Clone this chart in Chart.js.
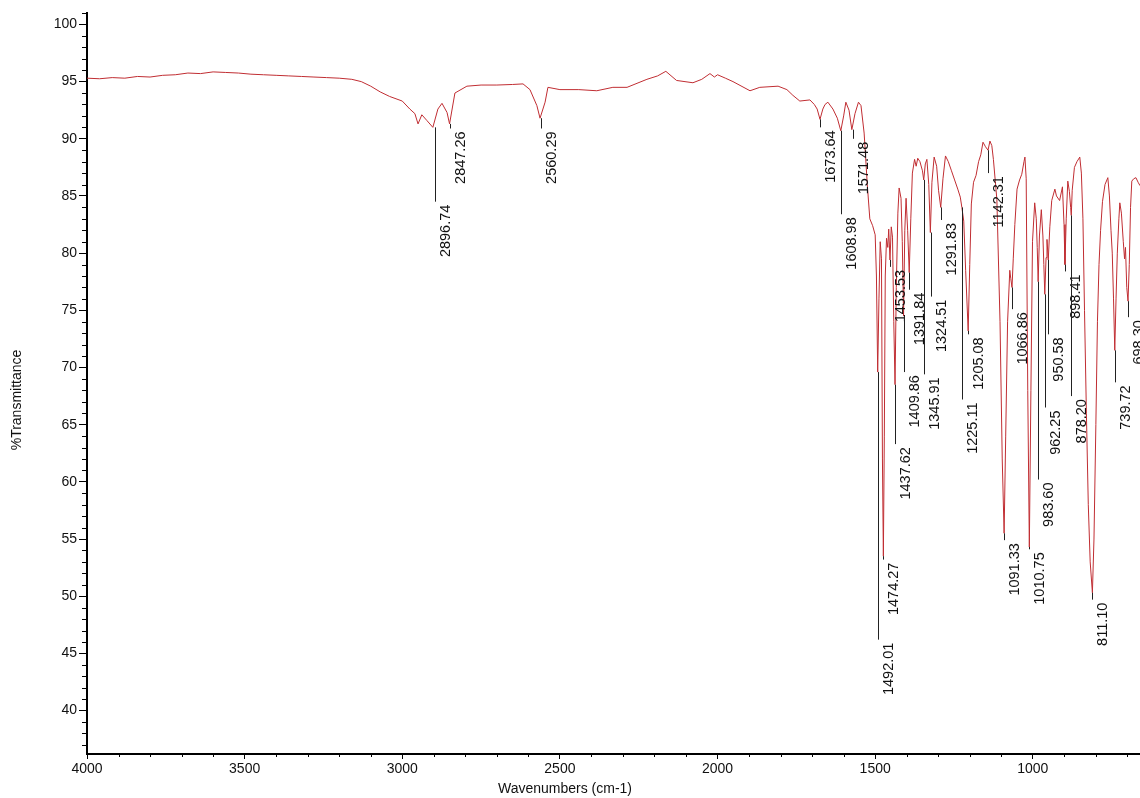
<!DOCTYPE html>
<html>
<head>
<meta charset="utf-8">
<script src="https://cdn.jsdelivr.net/npm/chart.js@4.4.1/dist/chart.umd.min.js"></script>
<style>
  html, body { margin: 0; padding: 0; background: #fff; }
  canvas { display: block; }
</style>
</head>
<body>
<canvas id="spectrum" width="1140" height="798"></canvas>
<script>
// spectrum (cm-1, %T)
const wavenumbers = [
  4000, 3960, 3920, 3880, 3840, 3800, 3760, 3720, 3680, 3640, 3600, 3560, 3520, 3480, 3440, 3400,
  3360, 3320, 3280, 3240, 3200, 3160, 3130, 3100, 3070, 3040, 3000, 2976, 2960, 2950, 2938, 2922,
  2903, 2887, 2874, 2858, 2850, 2833, 2795, 2750, 2700, 2650, 2617, 2595, 2573, 2563, 2547, 2538,
  2500, 2440, 2383, 2332, 2287, 2224, 2190, 2164, 2130, 2078, 2050, 2024, 2010, 2000, 1975, 1951,
  1897, 1866, 1808, 1780, 1761, 1739, 1707, 1693, 1684, 1675, 1666, 1659, 1650, 1634, 1620, 1609,
  1600, 1593, 1583, 1574, 1564, 1553, 1545, 1535, 1525, 1517, 1508, 1500, 1496, 1492, 1488, 1484,
  1480, 1477, 1474, 1471, 1468, 1464, 1460, 1457, 1453, 1449, 1445, 1441, 1437, 1433, 1428, 1424,
  1418, 1414, 1410, 1406, 1402, 1397, 1392, 1387, 1382, 1375, 1370, 1365, 1358, 1350, 1346, 1341,
  1336, 1330, 1325, 1320, 1313, 1305, 1299, 1292, 1285, 1277, 1268, 1258, 1248, 1238, 1230, 1225,
  1219, 1213, 1205, 1200, 1195, 1188, 1180, 1172, 1165, 1158, 1150, 1142, 1136, 1130, 1125, 1119,
  1114, 1104, 1097, 1091, 1086, 1080, 1073, 1070, 1066, 1062, 1057, 1050, 1042, 1035, 1028, 1025,
  1021, 1016, 1011, 1006, 1001, 994, 989, 986, 983, 979, 973, 968, 965, 962, 958, 955,
  951, 946, 940, 930, 925, 915, 906, 901, 898, 894, 889, 884, 880, 878, 875, 868,
  860, 851, 846, 841, 836, 830, 824, 818, 811, 806, 800, 795, 790, 785, 779, 771,
  762, 757, 752, 748, 744, 740, 736, 732, 727, 724, 719, 713, 709, 706, 702, 698,
  694, 690, 686, 680, 673, 666, 660
];
const transmittance = [
  95.3, 95.25, 95.35, 95.3, 95.45, 95.4, 95.55, 95.6, 95.75, 95.7, 95.85, 95.8, 95.75, 95.65, 95.6, 95.55,
  95.5, 95.45, 95.4, 95.35, 95.3, 95.2, 95.0, 94.6, 94.1, 93.7, 93.3, 92.6, 92.2, 91.3, 92.1, 91.6,
  91.0, 92.6, 93.1, 92.3, 91.3, 94.0, 94.6, 94.7, 94.7, 94.75, 94.8, 94.3, 92.9, 91.8, 93.2, 94.5,
  94.3, 94.3, 94.2, 94.5, 94.5, 95.2, 95.5, 95.9, 95.1, 94.9, 95.2, 95.7, 95.4, 95.6, 95.3, 95.0,
  94.2, 94.5, 94.6, 94.3, 93.8, 93.3, 93.4, 93.0, 92.6, 91.7, 92.6, 93.0, 93.2, 92.6, 91.8, 90.7,
  92.0, 93.2, 92.5, 90.8, 92.2, 93.2, 92.9, 90.5, 86.0, 83.0, 82.4, 81.6, 78.0, 69.6, 76.0, 81.0,
  79.5, 62.0, 53.5, 64.0, 78.0, 81.3, 80.5, 82.1, 79.4, 82.3, 81.4, 74.0, 68.5, 77.0, 83.5, 85.7,
  84.8, 81.0, 74.5, 82.0, 84.8, 82.0, 78.3, 83.0, 87.0, 88.2, 87.6, 88.3, 88.0, 87.2, 86.4, 87.8,
  88.2, 86.0, 81.8, 86.2, 88.4, 87.6, 85.5, 84.0, 86.5, 88.5, 88.0, 87.2, 86.4, 85.6, 84.9, 84.0,
  82.8, 78.5, 73.2, 79.0, 84.3, 86.2, 86.8, 88.0, 88.6, 89.7, 89.3, 89.0, 89.8, 89.4, 88.2, 86.3,
  84.7, 74.0, 62.0, 55.5, 64.0, 74.0, 78.5, 77.8, 77.0, 79.5, 82.5, 85.6, 86.4, 86.9, 88.0, 88.4,
  86.5, 68.0, 54.3, 68.0, 81.0, 84.4, 83.0, 80.5, 77.5, 81.5, 83.8, 81.5, 79.0, 76.4, 79.6, 81.2,
  79.4, 82.3, 84.6, 85.6, 85.0, 84.6, 85.8, 82.5, 79.0, 83.0, 86.3, 85.4, 84.0, 83.3, 85.5, 87.5,
  88.0, 88.4, 87.0, 83.0, 75.0, 66.0, 58.0, 53.0, 50.3, 55.0, 65.0, 74.0, 79.0, 82.0, 84.5, 86.0,
  86.6, 85.0, 82.0, 80.0, 76.0, 71.5, 76.0, 80.0, 83.0, 84.4, 83.5, 81.0, 79.5, 80.5, 77.0, 75.8,
  79.0, 84.0, 86.3, 86.5, 86.6, 86.2, 85.9
];

// labelled peaks: position, %T at the peak, %T where the leader line stops
const peakPositions = [
  2896.74, 2847.26, 2560.29, 1673.64, 1608.98, 1571.48, 1492.01, 1474.27, 1453.53, 1437.62,
  1409.86, 1391.84, 1345.91, 1324.51, 1291.83, 1225.11, 1205.08, 1142.31, 1091.33, 1066.86,
  1010.75, 983.60, 962.25, 950.58, 898.41, 878.20, 811.10, 739.72, 698.30
];
const peakMinima = [
  91.0, 91.3, 91.8, 91.7, 90.7, 90.8, 69.6, 53.5, 79.4, 68.5,
  74.5, 78.3, 86.4, 81.8, 84.0, 84.0, 73.2, 89.0, 55.5, 77.0,
  54.3, 77.5, 76.4, 79.4, 79.0, 83.3, 50.3, 71.5, 75.8
];
const peakLabelLevels = [
  84.5, 90.9, 90.9, 91.0, 83.4, 90.0, 46.2, 53.2, 78.8, 63.3,
  69.6, 76.8, 69.4, 76.2, 82.9, 67.2, 72.9, 87.0, 54.9, 75.1,
  54.1, 60.2, 66.5, 72.9, 78.4, 67.5, 49.7, 68.7, 74.4
];

const xTickValues = [4000, 3500, 3000, 2500, 2000, 1500, 1000];
const yTickValues = [40, 45, 50, 55, 60, 65, 70, 75, 80, 85, 90, 95, 100];
const xRange = [660, 4000];
const yRange = [36.2, 101];
const xTitle = "Wavenumbers (cm-1)";
const yTitle = "%Transmittance";

const FONT = '"Liberation Sans", Arial, Helvetica, sans-serif';

const minorTicks = {
  id: "minorTicks",
  afterDraw(chart) {
    const { ctx, chartArea, scales: { x, y } } = chart;
    ctx.save();
    ctx.strokeStyle = "#000";
    ctx.lineWidth = 1;
    ctx.beginPath();
    for (let v = Math.ceil(y.min); v <= y.max; v++) {
      if (v % 5 === 0) continue;
      const py = Math.round(y.getPixelForValue(v)) + 0.5;
      ctx.moveTo(chartArea.left - 5, py);
      ctx.lineTo(chartArea.left, py);
    }
    for (let v = Math.ceil(x.min / 100) * 100; v <= x.max; v += 100) {
      if (v % 500 === 0) continue;
      const px = Math.round(x.getPixelForValue(v)) + 0.5;
      ctx.moveTo(px, chartArea.bottom);
      ctx.lineTo(px, chartArea.bottom + 3);
    }
    ctx.stroke();

    // axis titles
    ctx.fillStyle = "#111";
    ctx.font = `14px ${FONT}`;
    ctx.textAlign = "center";
    ctx.textBaseline = "middle";
    ctx.fillText(xTitle, 565, 789);
    ctx.translate(17, 400);
    ctx.rotate(-Math.PI / 2);
    ctx.fillText(yTitle, 0, 0);
    ctx.restore();
  },
};

const peakLabels = {
  id: "peakLabels",
  afterDatasetsDraw(chart) {
    const { ctx, chartArea, scales: { x, y } } = chart;
    ctx.save();
    ctx.beginPath();
    ctx.rect(chartArea.left, chartArea.top, chartArea.right - chartArea.left, chartArea.bottom - chartArea.top);
    ctx.clip();
    ctx.strokeStyle = "#222";
    ctx.fillStyle = "#111";
    ctx.lineWidth = 1;
    ctx.font = `14.5px ${FONT}`;
    peakPositions.forEach((w, i) => {
      const px = Math.round(x.getPixelForValue(w)) + 0.5;
      const top = y.getPixelForValue(peakMinima[i]);
      const bottom = y.getPixelForValue(peakLabelLevels[i]);
      ctx.beginPath();
      ctx.moveTo(px, top);
      ctx.lineTo(px, bottom);
      ctx.stroke();
      ctx.save();
      ctx.translate(px + 3, bottom + 3);
      ctx.rotate(-Math.PI / 2);
      ctx.textAlign = "right";
      ctx.textBaseline = "top";
      ctx.fillText(w.toFixed(2), 0, 0);
      ctx.restore();
    });
    ctx.restore();
  },
};

new Chart(document.getElementById("spectrum"), {
  type: "line",
  data: {
    datasets: [{
      data: wavenumbers.map((w, i) => ({ x: w, y: transmittance[i] })),
      borderColor: "rgb(192,45,50)",
      borderWidth: 1,
      pointRadius: 0,
      tension: 0,
      fill: false,
    }],
  },
  options: {
    responsive: false,
    animation: false,
    layout: { padding: { top: 13, right: 0, bottom: 0, left: 0 } },
    plugins: { legend: { display: false }, tooltip: { enabled: false } },
    scales: {
      x: {
        type: "linear",
        reverse: true,
        min: xRange[0],
        max: xRange[1],
        afterFit(s) { s.height = 44; },
        afterBuildTicks(s) { s.ticks = xTickValues.map((v) => ({ value: v })); },
        border: { color: "#000", width: 2 },
        grid: { drawOnChartArea: false, tickLength: 5, color: "#000" },
        ticks: {
          autoSkip: false, maxRotation: 0, padding: 2, color: "#111",
          font: { family: FONT, size: 14 },
          callback: (v) => String(v),
        },
      },
      y: {
        min: yRange[0],
        max: yRange[1],
        afterFit(s) { s.width = 87; },
        afterBuildTicks(s) { s.ticks = yTickValues.map((v) => ({ value: v })); },
        border: { color: "#000", width: 2 },
        grid: { drawOnChartArea: false, tickLength: 8, color: "#000" },
        ticks: {
          padding: 2, color: "#111", font: { family: FONT, size: 14 },
          callback: (v) => String(v),
        },
      },
    },
  },
  plugins: [minorTicks, peakLabels],
});
</script>
</body>
</html>
